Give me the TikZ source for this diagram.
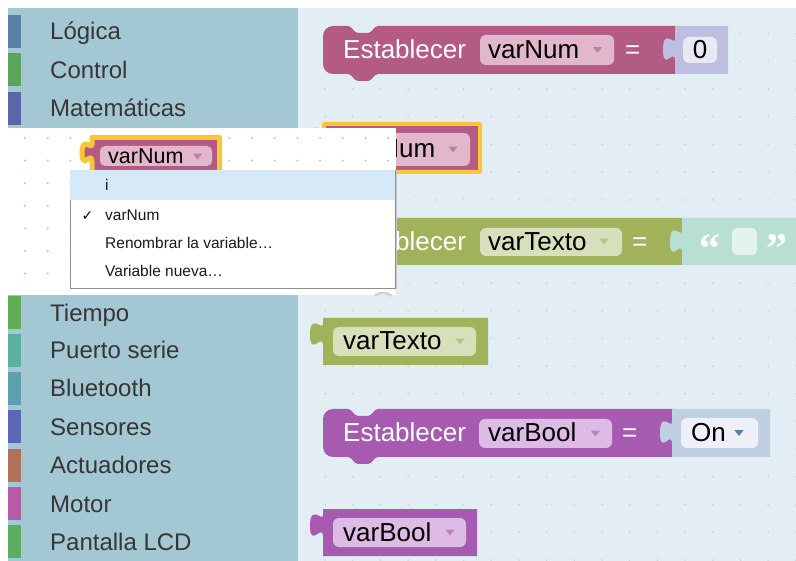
\documentclass[tikz,border=0pt]{standalone}
\usepackage{fontspec}
\setmainfont{Liberation Sans}
\newfontfamily\dejavu{DejaVu Sans}
\newfontfamily\qfont{Liberation Serif}
\definecolor{sidebar}{HTML}{A3C7D3}
\definecolor{ws}{HTML}{E2EEF3}
\definecolor{wsdot}{HTML}{C3D7DF}
\definecolor{fdot}{HTML}{A6CAD6}
\definecolor{cattext}{HTML}{363636}
\definecolor{cLog}{HTML}{5B80A5}
\definecolor{cCtl}{HTML}{5BA55B}
\definecolor{cMat}{HTML}{5B67A5}
\definecolor{cTie}{HTML}{62AE55}
\definecolor{cPue}{HTML}{5BB09F}
\definecolor{cBlu}{HTML}{5BA1AF}
\definecolor{cSen}{HTML}{5B66B4}
\definecolor{cAct}{HTML}{B3705A}
\definecolor{cMot}{HTML}{B55BA8}
\definecolor{cLcd}{HTML}{5BAE62}
\definecolor{pinkB}{HTML}{B35B85}
\definecolor{pinkF}{HTML}{E2B7CC}
\definecolor{pinkA}{HTML}{C07FA0}
\definecolor{lav}{HTML}{BEBFE0}
\definecolor{zeroF}{HTML}{E9E9F5}
\definecolor{greenB}{HTML}{A0B35B}
\definecolor{greenF}{HTML}{D6E0BA}
\definecolor{greenA}{HTML}{B5C47F}
\definecolor{teal}{HTML}{B9DFD5}
\definecolor{tealBox}{HTML}{E3F3EF}
\definecolor{purB}{HTML}{A65BB1}
\definecolor{purF}{HTML}{DDBBE5}
\definecolor{purA}{HTML}{BC80C6}
\definecolor{boolB}{HTML}{C0D0E2}
\definecolor{boolF}{HTML}{EDF1F7}
\definecolor{boolA}{HTML}{5B80A5}
\definecolor{selY}{HTML}{FBC53A}
\definecolor{menuHi}{HTML}{D6E9F8}
\definecolor{menuBd}{HTML}{8F8F8F}
% statement block outline: L T R B
\newcommand{\stmtpath}[4]{(#1,#2+10) .. controls (#1,#2+4.5) and (#1+4.5,#2) .. (#1+10,#2) -- (#1+25,#2) .. controls (#1+29,#2) and (#1+31,#2+7) .. (#1+35,#2+7) -- (#1+45,#2+7) .. controls (#1+49,#2+7) and (#1+51,#2) .. (#1+55,#2) -- (#3,#2) -- (#3,#4) -- (#1+55,#4) .. controls (#1+51,#4) and (#1+49,#4+7) .. (#1+45,#4+7) -- (#1+35,#4+7) .. controls (#1+31,#4+7) and (#1+29,#4) .. (#1+25,#4) -- (#1+10,#4) .. controls (#1+4.5,#4) and (#1,#4-4.5) .. (#1,#4-10) -- cycle}
% puzzle tab going up along x=#1 from y=#2+#4 to y=#2, width #3
\newcommand{\tabup}[4]{-- (#1,#2+#4) .. controls (#1,#2+#4/3) and (#1-#3,#2+#4*23/15) .. (#1-#3,#2+#4/2) .. controls (#1-#3,#2-#4*8/15) and (#1,#2+#4/3) .. (#1,#2)}
% getter / value block: L T R B tabtop tabw tabh
\newcommand{\valpath}[7]{(#1,#2) -- (#3,#2) -- (#3,#4) -- (#1,#4) \tabup{#1}{#5}{#6}{#7} -- cycle}
\newcommand{\darr}[3]{\fill[#3] (#1-4.5,#2-2.8) -- (#1+4.5,#2-2.8) -- (#1,#2+3) -- cycle;}
\tikzset{
  lbl/.style={anchor=base west, inner sep=0pt, text=cattext, font=\fontsize{24}{24}\selectfont},
  btxt/.style={anchor=base west, inner sep=0pt, text=black, font=\fontsize{26}{26}\selectfont},
  wtxt/.style={btxt, text=white},
  mtxt/.style={anchor=base west, inner sep=0pt, text=black!90, font=\fontsize{15.5}{16}\selectfont},
  qtxt/.style={anchor=base west, inner sep=0pt, text=white, font=\qfont\bfseries\fontsize{42}{42}\selectfont},
  pill/.style={rounded corners=6pt},
}
\begin{document}
\begin{tikzpicture}[x=1pt,y=-1pt]
\useasboundingbox (0,0) rectangle (796,561);
\fill[white] (0,0) rectangle (796,561);
% sidebar and workspace
\fill[sidebar] (8,8) rectangle (298,561);
\fill[ws] (298,8) rectangle (796,561);
\foreach \i in {0,...,17} \foreach \j in {1,...,20}
  \fill[wsdot] (325+27.7*\i, 6+27.7*\j) circle (1pt);
% categories
\foreach \c/\y/\t [count=\k] in {cLog/31.5/Lógica, cCtl/70/Control, cMat/108.5/Matemáticas, cTie/313/Tiempo, cPue/350.5/Puerto serie, cBlu/388.5/Bluetooth, cSen/427/Sensores, cAct/465.5/Actuadores, cMot/503.5/Motor, cLcd/541.5/Pantalla LCD}{
  \fill[\c] (8,\y-16.5) rectangle (20.5,\y+16.5);
  \node[lbl] (cat\k) at (50,\y+8.5) {\t};
}
% ---- Block 1: Establecer varNum = 0
\fill[pinkB] \stmtpath{323}{26}{677}{74};
\fill[lav] \valpath{675}{26}{728}{74}{39}{12}{22};
\node[wtxt] (b1t) at (343,59) {Establecer};
\fill[pinkF,pill] (480,35) rectangle (614,65);
\node[btxt] (b1v) at (488,59) {varNum};
\darr{597.5}{50}{pinkA}
\node[wtxt] (b1e) at (625,59) {=};
\fill[zeroF,pill] (683,37) rectangle (717,63);
\node[btxt,anchor=base] (b1n) at (700,59) {0};
% ---- Block 2: selected getter varNum
\filldraw[fill=pinkB,draw=selY,line width=4pt,line join=round] \valpath{324}{124}{480}{172}{130}{13}{22};
\fill[pinkF,pill] (334,133) rectangle (470,166);
\node[btxt] (b2v) at (344,158) {varNum};
\darr{453}{149.5}{pinkA}
% ---- Block 3: Establecer varTexto = text
\fill[greenB] \stmtpath{323}{218}{684}{265};
\fill[teal] \valpath{682}{218}{800}{265}{231}{12}{22};
\node[wtxt] (b3t) at (343,250.5) {Establecer};
\fill[greenF,pill] (480,228) rectangle (622,256);
\node[btxt] (b3v) at (488,250.5) {varTexto};
\darr{604}{241.5}{greenA}
\node[wtxt] (b3e) at (632,250.5) {=};
\node[qtxt] (b3q1) at (699,263) {“};
\fill[tealBox,rounded corners=5pt] (732,228) rectangle (757,255);
\node[qtxt] (b3q2) at (766,263) {”};
% ---- Block 4: getter varTexto
\fill[greenB] \valpath{323}{318}{488}{365}{324}{13}{22};
\fill[greenF,pill] (333,327) rectangle (476,356);
\node[btxt] (b4v) at (343,350) {varTexto};
\darr{460}{341.5}{greenA}
% ---- Block 5: Establecer varBool = On
\fill[purB] \stmtpath{323}{409}{674}{457};
\fill[boolB] \valpath{672}{409}{770}{457}{422}{12}{22};
\node[wtxt] (b5t) at (343,442) {Establecer};
\fill[purF,pill] (479,419) rectangle (612,448);
\node[btxt] (b5v) at (488,442) {varBool};
\darr{595.5}{433.5}{purA}
\node[wtxt] (b5e) at (622,442) {=};
\fill[boolF,pill] (681,418) rectangle (758,448);
\node[btxt] (b5o) at (691,442) {On};
\darr{739}{433}{boolA}
% ---- Block 6: getter varBool
\fill[purB] \valpath{323}{509}{477}{556}{515}{13}{22};
\fill[purF,pill] (333,518) rectangle (466,547);
\node[btxt] (b6v) at (343,541) {varBool};
\darr{450}{532.5}{purA}
% ---- flyout
\fill[white] (0,128) rectangle (396,295);
\foreach \i in {0,...,16} \foreach \j in {0,...,6}
  \fill[fdot] (25+22.7*\i, 138+22.6*\j) circle (1.1pt);
\filldraw[fill=pinkB,draw=selY,line width=5pt,line join=round] \valpath{92}{137.5}{219.5}{180}{144.5}{10}{17};
\fill[pinkF,rounded corners=5pt] (100,146) rectangle (212,166);
\node[anchor=base west,inner sep=0pt,font=\fontsize{21.5}{22}\selectfont] (fv) at (108,163.5) {varNum};
\darr{197.5}{156.5}{pinkA}
% grey arc under flyout
\draw[black!18,line width=2.5pt] (383,308) ++(235:15) arc (235:305:15);
% dropdown menu
\fill[black!22] (71.5,171.5) rectangle (396.5,289.5);
\filldraw[fill=white,draw=menuBd,line width=0.8pt] (70,170) rectangle (395,288);
\fill[menuHi] (70.4,170.4) rectangle (394.6,200);
\node[mtxt] (m1) at (105,191) {i};
\node[anchor=base west,inner sep=0pt,font=\dejavu\fontsize{14}{14}\selectfont] (mchk) at (81.5,220.5) {✓};
\node[mtxt] (m2) at (105,220.5) {varNum};
\node[mtxt] (m3) at (105,248.5) {Renombrar la variable…};
\node[mtxt] (m4) at (105,277) {Variable nueva…};
\end{tikzpicture}
\end{document}
